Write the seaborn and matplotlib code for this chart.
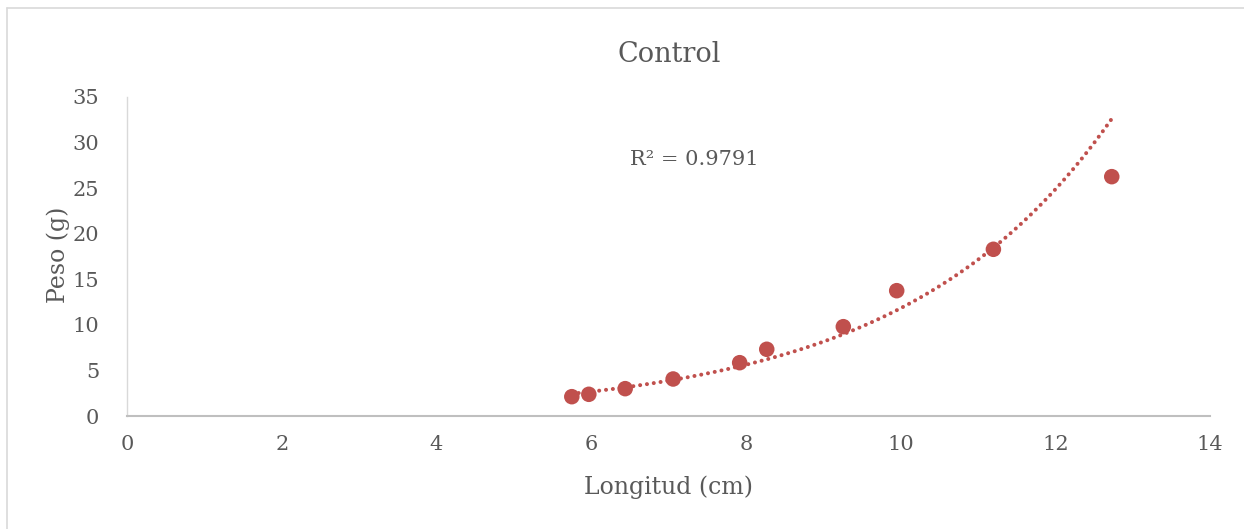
import numpy as np
import pandas as pd
import matplotlib
matplotlib.use("Agg")
import matplotlib.pyplot as plt
import seaborn as sns
from matplotlib.lines import Line2D

# Data
longitud = [5.75, 5.97, 6.44, 7.06, 7.92, 8.27, 9.26, 9.95, 11.20, 12.73]
peso = [2.12, 2.38, 3.00, 4.06, 5.85, 7.32, 9.80, 13.75, 18.29, 26.26]
r2_text = "R² = 0.9791"
title = "Control"
xlabel = "Longitud (cm)"
ylabel = "Peso (g)"
xticks = [0, 2, 4, 6, 8, 10, 12, 14]
yticks = [0, 5, 10, 15, 20, 25, 30, 35]

df = pd.DataFrame({"Longitud": longitud, "Peso": peso})

# Exponential trendline (Excel-style): ln(y) = a + b x
b, a = np.polyfit(df["Longitud"], np.log(df["Peso"]), 1)
xt = np.linspace(min(longitud), max(longitud), 200)
trend = pd.DataFrame({"x": xt, "y": np.exp(a + b * xt)})

sns.set_theme(style="white")
plt.rcParams["font.family"] = ["DejaVu Serif"]
TXT = "#595959"
RED = "#C0504D"

fig = plt.figure(figsize=(12.44, 5.29), dpi=100)
ax = fig.add_axes([127 / 1244, 1 - 416 / 529, (1210 - 127) / 1244, (416 - 97) / 529])

sns.lineplot(data=trend, x="x", y="y", ax=ax, color=RED, linewidth=2.9,
             linestyle=(0, (0.01, 1.7)), dash_capstyle="round", legend=False)
sns.scatterplot(data=df, x="Longitud", y="Peso", ax=ax, color=RED, s=125,
                edgecolor="none", legend=False, zorder=3)

ax.set_xlim(0, 14)
ax.set_ylim(0, 35)
ax.set_xticks(xticks)
ax.set_yticks(yticks)
ax.tick_params(axis="both", length=0, labelsize=15, labelcolor=TXT)
ax.tick_params(axis="x", pad=14)
ax.tick_params(axis="y", pad=20)
ax.set_xlabel("")
ax.set_ylabel("")
for side in ["top", "right"]:
    ax.spines[side].set_visible(False)
ax.spines["left"].set_color("#D9D9D9")
ax.spines["bottom"].set_color("#BFBFBF")
ax.spines["left"].set_linewidth(1.0)
ax.spines["bottom"].set_linewidth(1.5)
ax.grid(False)

ax.text(7.34, 28.1, r2_text, ha="center", va="center", fontsize=15, color=TXT)

fig.text(669 / 1244, 1 - 55 / 529, title, ha="center", va="center", fontsize=19.5, color=TXT)
fig.text(669 / 1244, 1 - 487 / 529, xlabel, ha="center", va="center", fontsize=17, color=TXT)
fig.text(58 / 1244, 1 - 255 / 529, ylabel, ha="center", va="center", fontsize=17,
         color=TXT, rotation=90)

# Chart area border: only top and left edges are visible in the reference
bx, by = 7 / 1244, 1 - 8 / 529
fig.lines.append(Line2D([bx, 1.0], [by, by], transform=fig.transFigure,
                        color="#D9D9D9", linewidth=1.2))
fig.lines.append(Line2D([bx, bx], [0.0, by], transform=fig.transFigure,
                        color="#D9D9D9", linewidth=1.2))

fig.savefig("out.png", dpi=100)
